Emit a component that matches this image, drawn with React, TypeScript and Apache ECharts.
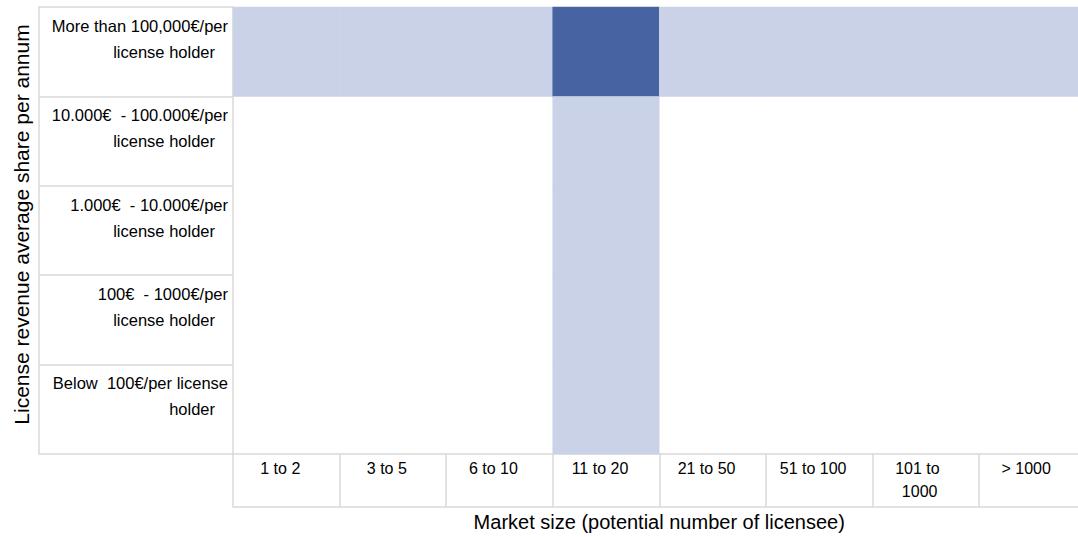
import React, { useEffect, useRef } from "react";
import * as echarts from "echarts";

const xCategories = ["1 to 2", "3 to 5", "6 to 10", "11 to 20", "21 to 50", "51 to 100", "101 to 1000", "> 1000"];
const yCategories = [
  "More than 100,000€/per\nlicense holder",
  "10.000€  - 100.000€/per\nlicense holder",
  "1.000€  - 10.000€/per\nlicense holder",
  "100€  - 1000€/per\nlicense holder",
  "Below  100€/per license\nholder",
];
// rows top to bottom, columns left to right: 0 = none, 1 = light, 2 = dark
const row1Values = [1, 1, 1, 2, 1, 1, 1, 1];
const row2Values = [0, 0, 0, 1, 0, 0, 0, 0];
const row3Values = [0, 0, 0, 1, 0, 0, 0, 0];
const row4Values = [0, 0, 0, 1, 0, 0, 0, 0];
const row5Values = [0, 0, 0, 1, 0, 0, 0, 0];
const xTitle = "Market size (potential number of licensee)";
const yTitle = "License revenue average share per annum";

const FONT = "'Liberation Sans', Arial, sans-serif";
const BORDER = "#D9D9D9";

export default function App() {
  const ref = useRef<HTMLDivElement>(null);
  useEffect(() => {
    if (!ref.current) return;
    const chart = echarts.init(ref.current, undefined, { renderer: "svg" });
    const rows = [row1Values, row2Values, row3Values, row4Values, row5Values];
    const data: number[][] = [];
    rows.forEach((r, yi) => r.forEach((v, xi) => data.push([xi, yi, v])));
    chart.setOption({
      animation: false,
      textStyle: { fontFamily: FONT },
      grid: { left: 233, top: 7, right: 14.5, bottom: 80, containLabel: false },
      visualMap: {
        show: false,
        type: "piecewise",
        dimension: 2,
        pieces: [
          { value: 0, color: "rgba(255,255,255,0)" },
          { value: 1, color: "#C9D2E6" },
          { value: 2, color: "#4863A1" },
        ],
      },
      xAxis: [
        {
          type: "category",
          data: xCategories,
          position: "bottom",
          axisLine: { show: true, lineStyle: { color: BORDER, width: 1.5 } },
          axisTick: { show: true, length: 53, lineStyle: { color: BORDER, width: 1.5 } },
          axisLabel: {
            interval: 0,
            margin: 3,
            color: "#000",
            fontSize: 16,
            fontFamily: FONT,
            lineHeight: 23,
            width: 70,
            overflow: "break",
            padding: [0, 12, 0, 0],
          },
          splitLine: { show: false },
          name: xTitle,
          nameLocation: "middle",
          nameGap: 58,
          nameTextStyle: { fontSize: 20, color: "#000", fontFamily: FONT },
        },
        {
          type: "category",
          data: xCategories,
          position: "bottom",
          offset: 53,
          axisLine: { show: true, lineStyle: { color: BORDER, width: 1.5 } },
          axisTick: { show: false },
          axisLabel: { show: false },
          splitLine: { show: false },
        },
      ],
      yAxis: [
        {
          type: "category",
          data: yCategories,
          inverse: true,
          position: "left",
          axisLine: { show: true, lineStyle: { color: BORDER, width: 1.5 } },
          axisTick: { show: true, length: 194, lineStyle: { color: BORDER, width: 1.5 } },
          axisLabel: {
            interval: 0,
            margin: 5,
            color: "#000",
            fontFamily: FONT,
            formatter: (v: string) => {
              const [a, b] = v.split("\n");
              return `{a|${a}}\n{b|${b}}\n{c| }`;
            },
            rich: {
              a: { fontSize: 16.5, lineHeight: 26, color: "#000", fontFamily: FONT },
              b: { fontSize: 16.5, lineHeight: 26, color: "#000", fontFamily: FONT, padding: [0, 13, 0, 0] },
              c: { fontSize: 16.5, lineHeight: 26 },
            },
          },
          splitLine: { show: false },
          name: yTitle,
          nameLocation: "middle",
          nameGap: 201,
          nameTextStyle: { fontSize: 21, color: "#000", fontFamily: FONT, padding: [0, 0, 0, 12] },
        },
        {
          type: "category",
          data: yCategories,
          inverse: true,
          position: "left",
          offset: 194,
          axisLine: { show: true, lineStyle: { color: BORDER, width: 1.5 } },
          axisTick: { show: false },
          axisLabel: { show: false },
          splitLine: { show: false },
        },
      ],
      series: [
        {
          type: "heatmap",
          xAxisIndex: 0,
          yAxisIndex: 0,
          data,
          itemStyle: { borderWidth: 0 },
          emphasis: { disabled: true },
        },
      ],
    });
    return () => chart.dispose();
  }, []);
  return (
    <div style={{ position: "fixed", left: 0, top: 0, width: 1078, height: 537, overflow: "hidden", background: "#fff" }}>
      <div ref={ref} style={{ width: 1100, height: 537 }} />
    </div>
  );
}
